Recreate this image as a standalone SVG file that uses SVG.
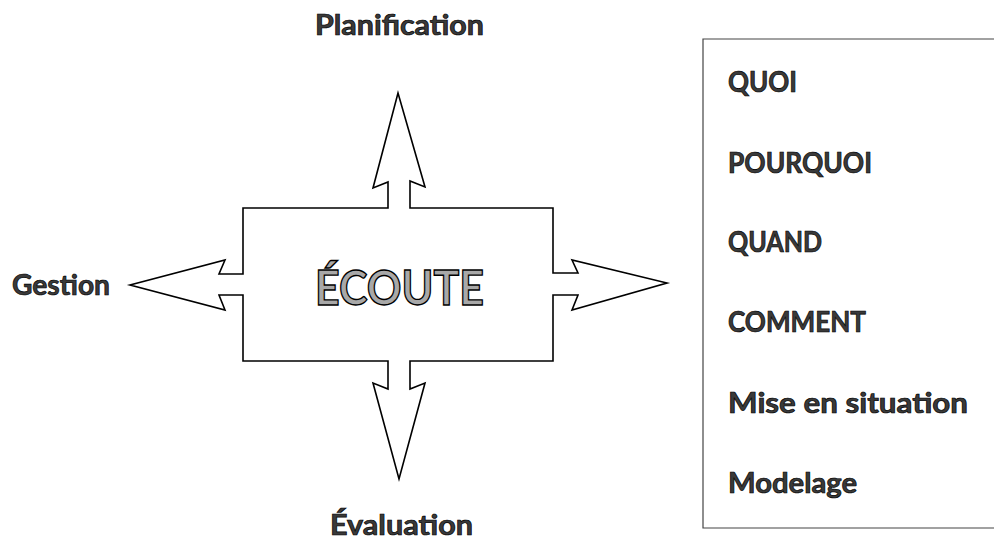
<svg xmlns="http://www.w3.org/2000/svg" width="994" height="540" viewBox="0 0 994 540">
<style>
  .lbl { font-family: Lato, "Open Sans", "Noto Sans", sans-serif; font-weight: bold; font-size: 29px; fill: #3a3a3a; stroke: #000; stroke-width: 0.7; }
  .big { font-family: Lato, "Open Sans", "Noto Sans", sans-serif; font-weight: bold; font-size: 48px; fill: #a8a8a8; stroke: #000; stroke-width: 1.4; }
  .outline { fill: #fff; stroke: #000; stroke-width: 1.6; stroke-linejoin: miter; }
  .box { fill: none; stroke: #444; stroke-width: 1.2; }
</style>
<rect width="994" height="540" fill="#fff"/>
<g id="ecoute">
  <path class="outline" d="M243,208 L388,208 L388,182 L373,188 L398,93 L425,187 L410,181 L410,208 L553,208 L553,273 L578,273 L572,260 L667,283 L572,310 L578,295 L553,295 L553,361 L410,361 L410,389 L425,383 L399,479 L373,383 L388,389 L388,361 L243,361 L243,295 L219,295 L225,310 L130,285 L225,260 L219,274 L243,274 Z"/>
  <text class="big" x="315" y="305" textLength="169" lengthAdjust="spacingAndGlyphs">ÉCOUTE</text>
</g>
<g id="planification">
  <text class="lbl" x="315" y="35" textLength="169" lengthAdjust="spacingAndGlyphs">Planification</text>
</g>
<g id="gestion">
  <text class="lbl" x="12" y="295" textLength="98" lengthAdjust="spacingAndGlyphs">Gestion</text>
</g>
<g id="evaluation">
  <text class="lbl" x="330" y="535" textLength="143" lengthAdjust="spacingAndGlyphs">Évaluation</text>
</g>
<g id="liste">
  <path class="box" d="M994,39 L703,39 L703,528 L994,528"/>
  <text class="lbl" x="728" y="92" textLength="69" lengthAdjust="spacingAndGlyphs">QUOI</text>
  <text class="lbl" x="728" y="173" textLength="144" lengthAdjust="spacingAndGlyphs">POURQUOI</text>
  <text class="lbl" x="728" y="252" textLength="94" lengthAdjust="spacingAndGlyphs">QUAND</text>
  <text class="lbl" x="728" y="332" textLength="138" lengthAdjust="spacingAndGlyphs">COMMENT</text>
  <text class="lbl" x="728" y="413" textLength="240" lengthAdjust="spacingAndGlyphs">Mise en situation</text>
  <text class="lbl" x="728" y="493" textLength="129" lengthAdjust="spacingAndGlyphs">Modelage</text>
</g>
</svg>
